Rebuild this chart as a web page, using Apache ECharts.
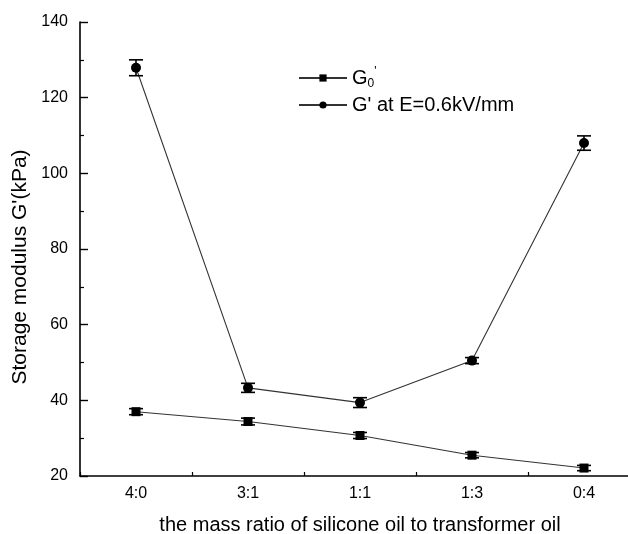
<!DOCTYPE html>
<html>
<head>
<meta charset="utf-8">
<script src="https://cdn.jsdelivr.net/npm/echarts@6/dist/echarts.min.js"></script>
<style>
  html, body { margin: 0; padding: 0; background: #fff; }
  #chart { width: 628px; height: 534px; }
</style>
</head>
<body>
<div id="chart"></div>
<script>
// mass ratio silicone oil : transformer oil
const ratios = ['4:0', '3:1', '1:1', '1:3', '0:4'];
// G0' (no field), kPa
const g0 = [37.0, 34.4, 30.7, 25.5, 22.1];
const g0Err = [0.8, 0.9, 0.8, 0.7, 0.7];
// G' at E=0.6kV/mm, kPa
const gE = [127.9, 43.3, 39.4, 50.5, 108.0];
const gEErr = [2.1, 1.2, 1.3, 0.8, 1.9];
const yTicks = [20, 40, 60, 80, 100, 120, 140];

const FONT = 'Liberation Sans';

function errData(vals, errs) {
  return vals.map((v, i) => [i, v - errs[i], v + errs[i]]);
}

// error bar with caps
function renderErr(params, api) {
  const x = api.value(0);
  const lo = api.coord([x, api.value(1)]);
  const hi = api.coord([x, api.value(2)]);
  const w = 7;
  const st = { stroke: '#000', lineWidth: 1.6 };
  return {
    type: 'group',
    children: [
      { type: 'line', shape: { x1: lo[0], y1: lo[1], x2: hi[0], y2: hi[1] }, style: st },
      { type: 'line', shape: { x1: lo[0] - w, y1: lo[1], x2: lo[0] + w, y2: lo[1] }, style: st },
      { type: 'line', shape: { x1: hi[0] - w, y1: hi[1], x2: hi[0] + w, y2: hi[1] }, style: st }
    ]
  };
}

const chart = echarts.init(document.getElementById('chart'));

chart.setOption({
  animation: false,
  backgroundColor: '#fff',
  textStyle: { fontFamily: FONT },
  grid: { left: 80, right: -12, top: 22, bottom: 58, outerBoundsMode: 'none', containLabel: false },
  legend: {
    orient: 'vertical',
    left: 293,
    top: 61,
    itemWidth: 48,
    itemHeight: 9,
    itemGap: 5,
    textStyle: {
      fontFamily: FONT, fontSize: 20, color: '#000',
      rich: {
        sub: { fontFamily: FONT, fontSize: 12, color: '#000', verticalAlign: 'bottom', padding: [12, 0, 0, 0] },
        sup: { fontFamily: FONT, fontSize: 12, color: '#000', verticalAlign: 'top', padding: [0, 0, 10, 0] }
      }
    },
    formatter: name => name === 'G0' ? "G{sub|0}{sup|'}" : name,
    data: ['G0', "G' at E=0.6kV/mm"]
  },
  xAxis: [
    {
      type: 'category',
      data: ratios,
      boundaryGap: true,
      name: 'the mass ratio of silicone oil to transformer oil',
      nameLocation: 'middle',
      nameGap: 39,
      nameTextStyle: { fontFamily: FONT, fontSize: 20, color: '#000' },
      axisLine: { onZero: false, lineStyle: { color: '#000', width: 1.6 } },
      axisTick: { alignWithLabel: true, inside: true, length: 8, lineStyle: { color: '#000', width: 1.4 } },
      axisLabel: { fontFamily: FONT, fontSize: 16, color: '#000', margin: 10 },
      splitLine: { show: false }
    },
    {
      // minor ticks halfway between ratios
      type: 'value',
      min: -0.5,
      max: 4.5,
      interval: 1,
      position: 'bottom',
      axisLine: { show: false, onZero: false },
      axisTick: { inside: true, length: 4, lineStyle: { color: '#000', width: 1.2 } },
      axisLabel: { show: false },
      splitLine: { show: false }
    }
  ],
  yAxis: {
    type: 'value',
    min: 20,
    max: 140,
    interval: 20,
    name: "Storage modulus G'(kPa)",
    nameLocation: 'middle',
    nameRotate: 90,
    nameGap: 42,
    nameTextStyle: { fontFamily: FONT, fontSize: 21, color: '#000', padding: [0, 36, 0, 0] },
    axisLine: { show: true, onZero: false, lineStyle: { color: '#000', width: 1.6 } },
    axisTick: { inside: true, length: 8, lineStyle: { color: '#000', width: 1.4 } },
    minorTick: { show: true, splitNumber: 2, length: 4, lineStyle: { color: '#000', width: 1.2 } },
    axisLabel: {
      fontFamily: FONT, fontSize: 16, color: '#000', margin: 12,
      formatter: v => yTicks.includes(v) ? String(v) : ''
    },
    splitLine: { show: false }
  },
  series: [
    {
      name: 'G0',
      type: 'line',
      data: g0,
      symbol: 'rect',
      symbolSize: 9,
      itemStyle: { color: '#000' },
      lineStyle: { color: '#333', width: 1.1 },
      z: 3
    },
    {
      name: "G' at E=0.6kV/mm",
      type: 'line',
      data: gE,
      symbol: 'circle',
      symbolSize: 10,
      itemStyle: { color: '#000' },
      lineStyle: { color: '#333', width: 1.1 },
      z: 3
    },
    {
      type: 'custom',
      data: errData(g0, g0Err),
      renderItem: renderErr,
      encode: { x: 0, y: [1, 2] },
      z: 4
    },
    {
      type: 'custom',
      data: errData(gE, gEErr),
      renderItem: renderErr,
      encode: { x: 0, y: [1, 2] },
      z: 4
    }
  ]
});
</script>
</body>
</html>
